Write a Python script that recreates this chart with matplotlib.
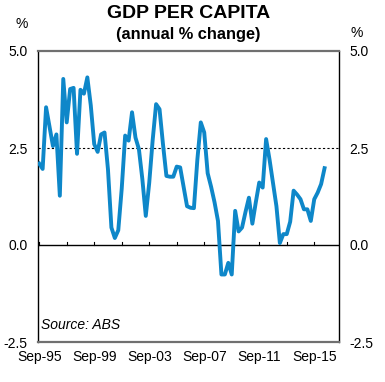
#!/usr/bin/env python3
import matplotlib
matplotlib.use('Agg')
import matplotlib.pyplot as plt

plt.rcParams['font.family'] = ['Liberation Sans', 'DejaVu Sans']

# GDP per capita, annual % change, quarterly from Sep-95
gdp = [2.10, 1.96, 3.55, 3.05, 2.55, 2.85, 1.27, 4.28, 3.16, 4.02,
       4.05, 2.35, 4.00, 3.90, 4.32, 3.60, 2.60, 2.40, 2.85, 2.90,
       1.95, 0.45, 0.18, 0.38, 1.45, 2.82, 2.69, 3.42, 2.77, 2.47,
       1.70, 0.75, 1.60, 2.70, 3.63, 3.50, 2.60, 1.78, 1.76, 1.76,
       2.02, 2.00, 1.50, 1.00, 0.96, 0.95, 2.20, 3.16, 2.90, 1.85,
       1.50, 1.10, 0.62, -0.76, -0.76, -0.46, -0.76, 0.88, 0.35, 0.45,
       0.85, 1.22, 0.55, 1.10, 1.61, 1.48, 2.73, 2.20, 1.60, 1.00,
       0.05, 0.28, 0.28, 0.60, 1.40, 1.30, 1.18, 0.92, 0.92, 0.62,
       1.18, 1.35, 1.57, 1.98]
tick_labels = ['Sep-95', 'Sep-99', 'Sep-03', 'Sep-07', 'Sep-11', 'Sep-15']
y_ticks = [-2.5, 0.0, 2.5, 5.0]

fig = plt.figure(figsize=(3.85, 3.82), dpi=100)
ax = fig.add_axes([38 / 385, 1 - 342 / 382, 301 / 385, 291 / 382])

x = list(range(len(gdp)))
ax.plot(x, gdp, color='#0e87c9', lw=2.8, solid_joinstyle='round', zorder=3)

ax.axhline(0, color='black', lw=1.0, zorder=2)
ax.axhline(2.5, color='black', lw=0.8, ls=(0, (2, 2)), zorder=2)

ax.set_xlim(-0.35, 87.2)
ax.set_ylim(-2.5, 5.0)

# minor tick marks sit on the zero line every two years
for t in range(0, 88, 8):
    ax.plot([t, t], [0, 0.07], color='black', lw=0.8, zorder=2)

ax.set_xticks(list(range(0, 81, 16)))
ax.set_xticklabels(tick_labels)
ax.tick_params(axis='x', length=0, pad=6, labelsize=10)

ax.set_yticks(y_ticks)
ax.set_yticklabels(['%.1f' % v for v in y_ticks])
ax.tick_params(axis='y', length=0, pad=7.5, labelsize=10,
               left=True, right=True, labelleft=True, labelright=True)

for side in ['left', 'right']:
    ax.spines[side].set_color('black')
    ax.spines[side].set_linewidth(1.0)
for side in ['top', 'bottom']:
    ax.spines[side].set_color('#707070')
    ax.spines[side].set_linewidth(1.6)

fig.text(0.49, 1 - 5 / 382, 'GDP PER CAPITA', ha='center', va='top',
         fontsize=14, fontweight='bold')
fig.text(0.49, 1 - 27 / 382, '(annual % change)', ha='center', va='top',
         fontsize=11.8, fontweight='bold')
fig.text(22 / 385, 1 - 24 / 382, '%', ha='center', va='center', fontsize=10)
fig.text(357 / 385, 1 - 33 / 382, '%', ha='center', va='center', fontsize=10)

ax.text(0.5, -2.05, 'Source: ABS', fontsize=10, style='italic',
        ha='left', va='center')

fig.savefig('out.png', dpi=100)
